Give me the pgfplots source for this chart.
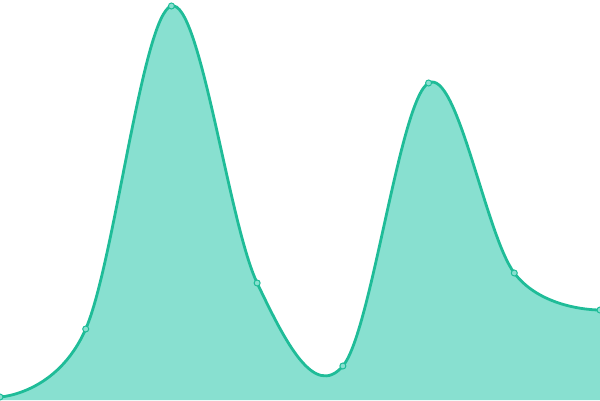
\documentclass[border=0pt]{standalone}
\usepackage{pgfplots}
\pgfplotsset{compat=1.18}
\definecolor{lineC}{HTML}{1FBC98}
\definecolor{fillC}{HTML}{88E0D0}
\begin{document}
\begin{tikzpicture}
\begin{axis}[
  width=600pt, height=400pt, scale only axis,
  hide axis,
  xmin=0, xmax=7, ymin=0, ymax=400,
  clip mode=individual,
  clip marker paths=true,
]
\addplot[fill=fillC, draw=none, smooth, tension=0.6] coordinates {
  (0,3) (1,71) (2,394) (3,117) (4,34) (5,317) (6,127) (7,90)
} \closedcycle;
\addplot[lineC, line width=2.8pt, smooth, tension=0.6,
  mark=*, mark size=3pt,
  mark options={fill=fillC, draw=lineC, line width=1pt}] coordinates {
  (0,3) (1,71) (2,394) (3,117) (4,34) (5,317) (6,127) (7,90)
};
\end{axis}
\end{tikzpicture}
\end{document}
